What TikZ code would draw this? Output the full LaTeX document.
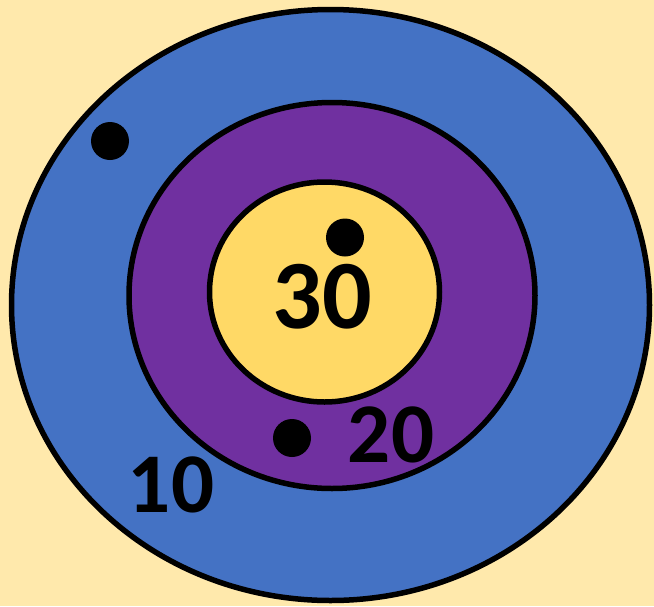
\documentclass[tikz,border=0pt]{standalone}
\usepackage{fontspec}
\setmainfont{Carlito}
\usepackage{tikz}
\usetikzlibrary{positioning, shapes, calc}
\definecolor{PaperCream}{RGB}{255, 233, 172}
\definecolor{RingBlue}{RGB}{68, 114, 196}
\definecolor{RingPurple}{RGB}{112, 48, 160}
\definecolor{BullYellow}{RGB}{255, 217, 102}

\tikzset{
  ring/.style={draw=black, line width=5.5pt},
  hit/.style={circle, fill=black, inner sep=0pt, minimum size=38pt},
  score/.style={font=\bfseries\fontsize{85}{85}\selectfont, inner sep=0pt}
}

\begin{document}
\begin{tikzpicture}[x=1pt, y=-1pt]
    % background
    \fill[PaperCream] (0,0) rectangle (654,606);
    \useasboundingbox (0,0) rectangle (654,606);

    % rings
    \draw[ring, fill=RingBlue] (330.5,305) ellipse [x radius=319, y radius=295.5];
    \draw[ring, fill=RingPurple] (332,295.5) ellipse [x radius=203, y radius=193];
    \draw[ring, fill=BullYellow] (324.5,292) ellipse [x radius=115, y radius=110];

    % hits
    \node[hit] (hitA) at (110,141) {};
    \node[hit] (hitB) at (345,237.5) {};
    \node[hit] (hitC) at (292,438) {};

    % scores
    \node[score, font=\bfseries\fontsize{98}{98}\selectfont] (pts30) at (322,297) {30};
    \node[score] (pts20) at (391,435) {20};
    \node[score] (pts10) at (171,485) {10};
  \end{tikzpicture}
\end{document}
